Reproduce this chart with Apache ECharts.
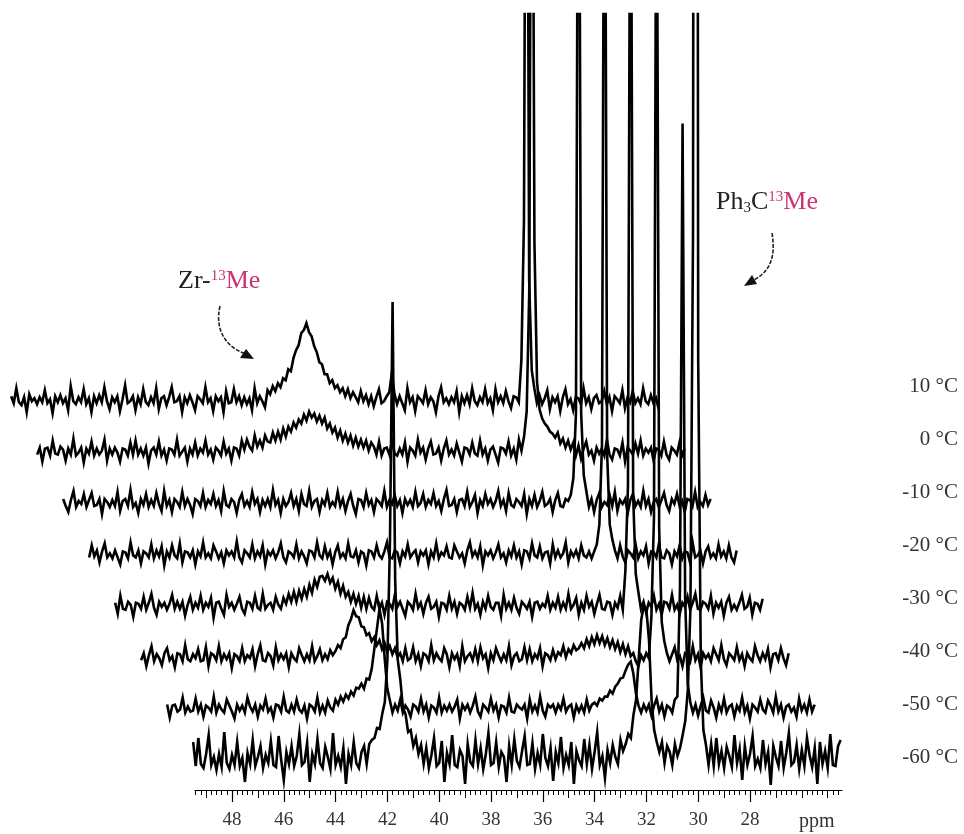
<!DOCTYPE html>
<html><head><meta charset="utf-8">
<script src="https://cdn.jsdelivr.net/npm/echarts@6/dist/echarts.min.js"></script>
<style>html,body{margin:0;padding:0;background:#fff}#c{width:964px;height:834px}</style>
</head><body><div id="c"></div>
<script>
// ---- data (local ppm grid: 49.5 -> 24.5, step 0.1; intensities in px above trace baseline) ----
const PPM_START = 49.5, PPM_STEP = 0.1;
const temps = ['-60 °C','-50 °C','-40 °C','-30 °C','-20 °C','-10 °C','0 °C','10 °C'];
const tickLabels = [48,46,44,42,40,38,36,34,32,30,28];

const tm60 = [18,-6,22,-4,-8,6,25,-5,3,-10, 6,-7,28,-3,-9,5,-5,18,-6,2, -22,7,-4,20,-6,3,14,-8,5,-3, 19,-5,-7,24,0,-20,8,-4,14,-6, 4,26,-5,-2,17,-22,6,-4,21,-3, -8,13,3,-9,27,-5,4,-7,12,-24, 6,-5,18,-3,-8,8,14,-4,16,20, 22,32,31,46,58,100,220,458,180,100, 80,52,46,28,30,14,22,6,15,-4, 12,-8,5,22,-6,-3,19,-22,7,-4, 25,-5,-7,10,4,-24,16,-2,-6,20, -4,12,-9,6,27,-5,-3,18,-7,8, 3,-22,14,-5,21,-1,-7,9,24,-5, -4,17,-9,7,-5,26,2,-6,12,-21, 8,-3,23,-8,5,-5,18,-24,9,0, -6,21,-4,15,-9,8,28,-5,4,-18, 10,-3,15,3,-4,20,9,16,26,22, 45,60,100,140,155,150,120,60,30,18, 8,18,-3,14,8,-5,16,4,12,25, 39,70,152,526,3000,400,100,30,15,-5, 16,-6,22,-4,9,-8,13,4,-7,25, -3,11,-20,14,-5,6,24,-6,1,-8, 20,-4,8,-25,14,3,-6,19,-8,7, 27,-5,-2,15,-9,10,-6,22,5,-7, 12,-24,18,-4,9,-8,26,-5,-6,14,20];
const tm50 = [4,-9,3,4,-3,-1,11,-4,2,-3, -2,10,-3,4,-8,3,1,-3,12,-4, 4,-1,-4,9,3,-3,-10,4,-2,3, -4,11,2,-3,4,-8,3,-1,10,-3, 1,-9,4,3,-3,12,-2,-4,4,-3, 9,-1,-4,3,-10,4,2,-3,11,-4, 3,-4,8,1,-2,9,4,12,7,14, 10,17,13,21,20,25,20,30,29,40, 60,80,100,85,50,20,8,-4,4,-2, 9,-4,3,-1,-8,4,2,-3,10,-3, 4,-9,3,1,-4,11,-4,3,-2,4, -3,2,9,-10,4,-1,4,-4,3,12, -3,-8,4,1,-3,10,-2,4,-9,3, 2,-4,11,-3,-4,4,1,-1,4,-10, 9,-3,3,-4,12,-2,-8,4,1,4, -4,4,-1,10,-3,2,4,-9,3,-3, 3,-4,9,-2,4,6,3,10,8,12, 12,18,15,22,25,30,31,38,44,47, 35,15,3,-4,4,-2,4,-7,3,10, -3,4,-8,3,1,-4,9,12,120,585, 110,25,6,-4,4,-7,3,11,-2,-4, 8,1,-9,4,-3,10,-4,2,4,-8, 3,-2,11,-4,3,-10,4,1,-3,9, -1,-4,8,3,-4,12,-3,4,-9,2, 4,-3,1,-8,10,-2,4,-4,9,-3,4];
const tm40 = [-3,4,-9,2,11,-4,3,-1,-8,4, 9,-3,1,-10,4,3,-4,12,-2,-4, 3,-1,8,-4,-3,10,-9,4,2,-3, 11,-4,3,-2,4,-11,3,1,-4,9, -4,2,-1,8,-9,3,12,-3,-4,4, 1,-8,10,-3,3,-2,4,-10,4,-1, -4,9,2,-4,3,-3,11,-4,1,8, -3,3,-2,7,2,6,12,9,18,20, 32,38,47,41,40,31,30,22,24,16, 20,12,17,8,14,5,11,3,9,0, 4,-4,9,-3,-1,10,-4,3,-9,4, 2,-4,12,-3,4,-1,-4,9,3,-10, 4,-2,3,-9,11,-4,1,4,-3,8, -4,10,-1,3,-11,4,-3,9,2,-4, 3,-3,11,-8,1,4,-4,-2,10,-3, 8,-4,3,-1,9,-9,4,2,-3,7, -2,5,2,11,0,8,4,12,7,9, 14,9,18,11,20,13,22,14,21,12, 19,10,17,8,15,5,13,3,11,1, 4,-4,-9,2,-3,4,-1,40,140,900, 130,35,16,4,-4,3,10,-3,1,-9, 4,2,-4,11,-3,3,-10,4,-1,3, -4,9,3,-3,12,-2,-8,4,1,-3, 10,-3,3,-9,4,-1,-4,11,2,-4, 4,-2,8,-10,3,4,-3,9,-1,-8,4];
const tm30 = [3,-8,10,-3,-4,4,1,-11,3,2, -3,9,-4,3,12,-2,-9,4,-1,3, -4,2,11,-3,4,-3,4,-10,1,9, -4,3,-2,10,-4,3,-1,8,-12,3, 4,-3,-9,11,-1,3,-4,2,9,-3, -8,4,3,-3,10,-2,-4,12,-3,1, 3,-4,9,1,-3,8,2,12,4,14, 4,15,7,17,9,21,13,26,19,29, 30,25,32,23,28,17,24,12,20,9, 14,4,12,2,10,-2,9,-3,8,-1, -4,10,-3,3,-9,4,2,-3,11,-1, 4,-3,-10,4,1,-4,12,-2,3,-8, 3,9,-3,-1,4,-11,3,2,-4,10, -3,4,-8,3,1,-4,9,-2,13,-3, 2,-9,4,-3,10,-1,-4,3,3,-10, 11,-3,3,-4,8,-2,-8,4,1,-3, 4,-11,3,4,-3,2,-1,10,-4,3, -2,9,-4,3,-3,12,-3,1,8,-9, 3,-4,10,-1,4,-8,2,11,-3,-4, 4,3,-9,3,-2,10,-4,35,120,900, 110,32,14,-3,4,-7,3,-1,10,-4, 2,-9,4,3,-3,11,-4,1,-8,3, -1,9,-4,3,12,-3,-4,4,2,-3, 10,-8,3,-2,4,-10,3,9,-4,1, -4,3,11,-3,-1,8,-9,3,2,-4,7];
const tm20 = [-3,9,-2,4,-8,3,11,-3,1,-4, 4,-3,-10,3,2,-4,12,-1,-3,4, -9,3,1,-3,10,-4,4,-2,8,-11, 3,-3,9,-1,-4,11,-8,3,2,-3, 4,-10,3,-2,12,-3,1,-4,9,3, -4,2,-9,4,-1,3,-3,13,-3,-8, 4,1,-3,10,-4,3,-2,9,-10,3, -1,4,-4,2,11,-3,-8,3,1,-3, 10,-4,3,-2,-9,4,3,-3,12,-1, -4,8,-3,3,-10,2,9,-3,1,-4, 11,-2,-3,4,-8,3,1,-11,4,3, -3,9,-1,-4,3,12,-3,-4,4,2, -9,3,-2,10,-3,1,4,-8,3,-1, 4,-10,3,-3,11,-4,2,-1,8,-3, -4,9,3,-3,1,-9,4,12,-2,3, -3,8,-11,3,-1,4,-4,2,10,-3, 1,-8,4,-2,9,-3,3,-10,4,3, -4,11,-1,-3,8,-4,2,3,-9,10, -3,4,-3,1,12,-8,3,-2,4,-4, 9,-1,-3,3,-4,3,10,30,110,900, 100,30,15,4,-4,9,-2,-8,4,1, -3,10,-4,3,-1,8,-9,3,2,-3, 11,-3,-4,4,1,-10,3,-2,9,-4, 3,2,-8,12,-3,-1,4,-9,3,8, -3,1,-4,10,-2,3,-4,9,-3,-8,4];
const tm10 = [4,-3,-9,3,12,-4,2,-1,9,-4, 3,10,-3,-2,4,-11,4,1,-4,3, -3,11,-8,2,4,-3,13,-4,0,-10, 4,-2,9,-4,3,-3,10,-1,-8,12, -3,3,-9,4,1,-4,11,-3,4,-2, -11,4,2,-3,10,-4,3,-1,9,-3, 3,-8,12,-2,-4,4,1,-10,3,9, -3,2,-4,11,-1,4,-9,3,-3,4, -4,13,-2,3,-10,4,-3,1,10,-3, 4,-8,9,-1,-3,12,-4,2,4,-9, 3,-2,10,-4,1,-3,11,-3,4,-8, 2,9,-3,-11,4,3,-4,10,-2,3, -9,4,1,-3,12,-4,3,-1,8,-3, 3,-10,4,-2,3,-4,11,-3,0,9, -4,3,-1,10,-3,2,-8,4,13,-3, -2,4,-9,3,4,-3,11,-4,1,8, -10,3,-3,9,-1,4,-4,2,12,-3, 3,-8,10,-2,-4,4,1,-3,9,-11, 4,-3,8,-4,2,11,-3,-1,4,-9, 3,10,-3,-4,4,2,8,25,90,900, 90,28,12,-4,4,-9,3,10,-4,1, -2,8,-3,11,-8,3,-1,4,-10,3, 9,-3,2,-4,12,-3,4,-9,1,4, -4,3,10,-2,-8,4,-1,9,-3,2, -9,4,3,-3,11,-4,1,-3,8,-2,4];
const t0 = [-3,4,-10,3,4,-4,11,-2,-3,5, 2,-9,3,-3,13,-4,-1,4,-11,3, -2,10,-4,3,-3,1,12,-9,3,-3, 4,-1,-10,3,2,-4,9,-3,11,-3, 3,-4,4,-12,1,4,-3,10,-4,2, -9,3,2,-3,12,-4,0,4,-10,3, -3,9,-4,3,-1,11,-3,2,-8,4, 1,-4,10,-2,3,-9,4,3,-4,11, 2,12,5,1,16,5,11,4,16,10, 9,19,11,20,12,23,15,25,20,29, 24,32,28,37,31,40,34,38,30,36, 28,34,23,28,19,24,14,21,11,18, 9,16,6,14,5,12,4,11,1,9, 5,-3,10,-4,3,4,-3,11,-2,-4, 3,-3,9,-10,4,1,-4,12,-1,4, -8,3,10,-3,-2,4,-9,3,11,-3, 2,-4,8,-1,-10,4,3,-3,9,-2, -4,11,-3,3,-9,2,5,-3,-11,4, 3,-2,10,-4,3,-8,12,1,15,40, 160,900,210,70,42,33,28,25,20,18, 14,19,8,13,4,11,2,9,-4,6, -7,3,10,-3,1,-9,4,-2,3,-4, 12,-3,-8,3,2,-4,9,-10,4,1, -3,8,-2,11,-4,3,-1,4,-9,3, 2,-4,10,-3,-8,4,1,-3,9,-4,3];
const t10 = [4,-3,12,-2,-5,3,-12,6,-1,2, -4,3,-2,10,-3,1,-13,4,-2,5, -3,2,-10,14,-1,-4,3,-2,11,-4, 2,-12,4,-3,5,-2,13,-1,-9,3, -2,4,-11,1,15,-3,-1,4,-10,3, -4,11,-2,-5,3,-3,12,-9,2,4, -5,3,13,-2,-1,4,-12,3,-3,5, -2,-10,4,1,-3,13,-2,2,-11,4, -1,3,-12,9,-3,-2,11,-2,4,-5, 3,-4,2,-10,12,-3,4,-1,-7,10, 6,14,9,17,13,22,20,31,29,42, 50,55,67,70,77,68,64,54,48,38, 36,26,26,17,20,12,15,8,12,4, 11,2,8,3,-2,9,-1,5,-4,4, -6,3,11,-3,-1,4,8,27,6,-4, 4,-3,-10,12,-2,3,-11,4,1,-3, 10,-4,3,-1,-12,4,13,-2,2,-4, 3,-2,9,-12,4,-3,5,-4,12,-1, -5,3,-2,11,-3,2,-10,11,-2,4, -3,9,-1,-8,4,3,-2,40,180,900, 120,30,12,-3,5,-4,2,10,-9,3, -2,4,-11,3,11,-4,1,-10,3,2, -4,12,-3,3,-9,2,5,-3,-1,9, -4,3,-11,4,1,-3,10,-8,3,-2, 9,-3,2,-4,12,-1,-4,5,-3,2,-9];
const traces = [tm60, tm50, tm40, tm30, tm20, tm10, t0, t10];

// ---- layout ----
const W = 964, H = 834;
const X48 = 232, PXPPM = 25.9;          // front axis: 48 ppm at x=232, 25.9 px per ppm
const AXIS_Y = 790, TOP_Y = 14;
const DX = 26, DY = 51.4, BASE0 = 30;   // per-trace offsets (px)
const ppmAt = x => 48 - (x - X48) / PXPPM;

const series = traces.map((arr, k) => ({
  type: 'line', xAxisIndex: 0, yAxisIndex: 0, showSymbol: false, symbol: 'none',
  animation: false, clip: true, silent: true, z: 10 - k,
  lineStyle: { color: '#000', width: 2.6, join: 'miter' },
  data: arr.map((v, i) => [PPM_START - i * PPM_STEP + k * DX / PXPPM, BASE0 + k * DY + v])
}));
series.push({ type: 'line', xAxisIndex: 1, yAxisIndex: 1, data: [], silent: true });

const ints = []; for (let v = 25; v <= 49; v++) ints.push(v);
const minors = []; for (let j = 123; j <= 247; j++) minors.push(+(j * 0.2).toFixed(1));
const axMin = ppmAt(842), axMax = ppmAt(195);
const axBase = {
  type: 'value', gridIndex: 1, position: 'bottom', offset: 0, min: axMin, max: axMax, inverse: true,
  splitLine: { show: false }, axisLine: { show: false, onZero: false }
};
const serif = "'Liberation Serif','DejaVu Serif',serif";

const graphic = [];
temps.forEach((t, k) => graphic.push({
  type: 'text', right: 6, top: 758 - 53 * k - 11,
  style: { text: t, font: "21px " + serif, fill: '#333' }
}));
graphic.push({ type: 'text', left: 799, top: 812, style: { text: 'ppm', font: "20px " + serif, fill: '#333' } });
graphic.push({
  type: 'text', left: 178, top: 268,
  style: { text: '{b|Zr-}{s|13}{p|Me}', rich: {
    b: { font: "26px " + serif, fill: '#222' },
    s: { font: "15px " + serif, fill: '#cc3377', padding: [0,0,10,0] },
    p: { font: "26px " + serif, fill: '#cc3377' } } }
});
graphic.push({
  type: 'text', left: 716, top: 189,
  style: { text: '{b|Ph}{d|3}{b|C}{s|13}{p|Me}', rich: {
    b: { font: "26px " + serif, fill: '#222' },
    d: { font: "15px " + serif, fill: '#222', padding: [12,0,0,0] },
    s: { font: "15px " + serif, fill: '#cc3377', padding: [0,0,10,0] },
    p: { font: "26px " + serif, fill: '#cc3377' } } }
});
graphic.push({ type: 'bezierCurve', shape: { x1: 220, y1: 306, cpx1: 214, cpy1: 332, cpx2: 228, cpy2: 348, x2: 246, y2: 354 },
  style: { stroke: '#222', lineWidth: 1.6, lineDash: [4, 1.5], fill: null } });
graphic.push({ type: 'polygon', shape: { points: [[254, 359], [240, 358], [246, 349]] }, style: { fill: '#111' } });
graphic.push({ type: 'bezierCurve', shape: { x1: 772, y1: 233, cpx1: 776, cpy1: 258, cpx2: 770, cpy2: 272, x2: 752, y2: 281 },
  style: { stroke: '#222', lineWidth: 1.6, lineDash: [4, 1.5], fill: null } });
graphic.push({ type: 'polygon', shape: { points: [[744, 286], [752, 275], [757, 284]] }, style: { fill: '#111' } });

const option = {
  backgroundColor: '#fff', animation: false,
  grid: [
    { left: 0, right: 0, top: TOP_Y, bottom: H - AXIS_Y, containLabel: false },
    { left: 195, width: 842 - 195, top: AXIS_Y - 10, height: 10, containLabel: false }
  ],
  xAxis: [
    { type: 'value', gridIndex: 0, min: ppmAt(W), max: ppmAt(0), inverse: true, show: false },
    Object.assign({}, axBase, {
      axisLine: { show: true, onZero: false, lineStyle: { color: '#000', width: 1.2 } },
      axisTick: { show: true, length: 12, customValues: tickLabels, lineStyle: { color: '#000', width: 1.2 } },
      axisLabel: { show: true, customValues: tickLabels, margin: 21, color: '#333', fontSize: 19, fontFamily: serif }
    }),
    Object.assign({}, axBase, {
      axisTick: { show: true, length: 8, customValues: ints, lineStyle: { color: '#000', width: 1 } },
      axisLabel: { show: false }
    }),
    Object.assign({}, axBase, {
      axisTick: { show: true, length: 5, customValues: minors, lineStyle: { color: '#000', width: 1 } },
      axisLabel: { show: false }
    })
  ],
  yAxis: [
    { type: 'value', gridIndex: 0, min: 0, max: AXIS_Y - TOP_Y, show: false },
    { type: 'value', gridIndex: 1, min: 0, max: 1, show: false }
  ],
  series: series,
  graphic: graphic
};
echarts.init(document.getElementById('c'), null, { renderer: 'canvas' }).setOption(option);
</script></body></html>
